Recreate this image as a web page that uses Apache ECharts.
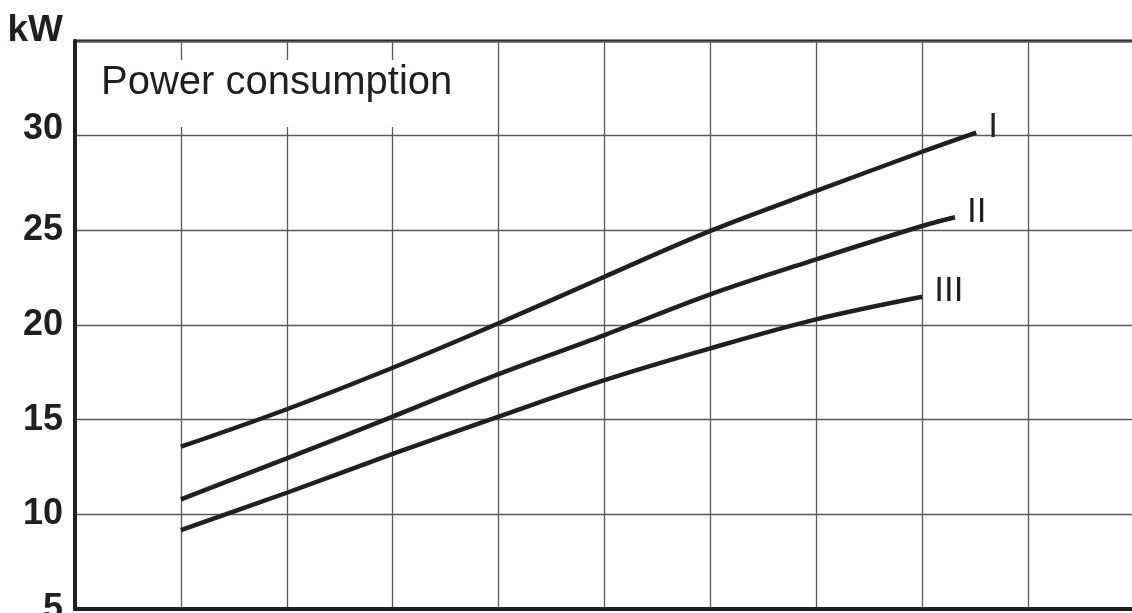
<!DOCTYPE html>
<html>
<head>
<meta charset="utf-8">
<script src="https://cdn.jsdelivr.net/npm/echarts@6/dist/echarts.min.js"></script>
<style>
  html, body { margin: 0; padding: 0; background: #fff; }
  #chart { width: 1132px; height: 613px; }
</style>
</head>
<body>
<div id="chart"></div>
<script>
const ink = '#231f20'
const font = '"Liberation Sans", Arial, Helvetica, sans-serif'

// y axis ticks (kW)
const yTicks = [5, 10, 15, 20, 25, 30, 35]

// curves
const xI = [1, 2, 3, 4, 5, 6, 7, 8, 8.51]
const yI = [13.57, 15.55, 17.74, 20.09, 22.55, 24.97, 27.08, 29.15, 30.16]
const xII = [1, 2, 3, 4, 5, 6, 7, 8, 8.31]
const yII = [10.79, 12.96, 15.16, 17.41, 19.47, 21.62, 23.47, 25.23, 25.69]
const xIII = [1, 2, 3, 4, 5, 6, 7, 8]
const yIII = [9.17, 11.14, 13.19, 15.16, 17.09, 18.77, 20.30, 21.49]

const pairs = (xs, ys) => xs.map((x, i) => [x, ys[i]])

const chart = echarts.init(document.getElementById('chart'))

const makeSeries = (name, xs, ys) => ({
  name,
  type: 'line',
  data: pairs(xs, ys),
  smooth: 0.35,
  showSymbol: false,
  lineStyle: { color: ink, width: 4.5 },
  z: 3,
  endLabel: {
    show: true,
    formatter: name,
    color: ink,
    fontFamily: font,
    fontSize: 35,
    distance: 12,
    offset: [0, -5]
  }
})

const option = {
  animation: false,
  backgroundColor: '#fff',
  grid: {
    left: 75,
    top: 41,
    width: 1059,
    height: 568,
    outerBoundsMode: 'none',
    containLabel: false,
    show: true,
    borderColor: ink,
    borderWidth: 3
  },
  xAxis: {
    type: 'value',
    min: 0,
    max: 10,
    interval: 1,
    axisLine: { show: true, lineStyle: { color: ink, width: 4 } },
    axisTick: { show: false },
    axisLabel: { show: false },
    splitLine: { show: true, lineStyle: { color: '#5a5a5a', width: 1.3 } }
  },
  yAxis: {
    type: 'value',
    min: yTicks[0],
    max: yTicks[yTicks.length - 1],
    interval: 5,
    axisLine: { show: true, lineStyle: { color: ink, width: 4 } },
    axisTick: { show: false },
    axisLabel: {
      color: ink,
      fontFamily: font,
      fontWeight: 'bold',
      fontSize: 36,
      margin: 12,
      formatter: (v) => (v === 35 ? '' : v === 30 ? '{up|30}' : String(v)),
      rich: {
        up: {
          color: ink,
          fontFamily: font,
          fontWeight: 'bold',
          fontSize: 36,
          padding: [0, 0, 14, 0]
        }
      }
    },
    splitLine: { show: true, lineStyle: { color: '#5a5a5a', width: 1.3 } }
  },
  graphic: [
    {
      type: 'rect',
      z: 5,
      shape: { x: 78, y: 60, width: 392, height: 67 },
      style: { fill: '#fff' }
    },
    {
      type: 'text',
      z: 6,
      x: 101,
      y: 83,
      style: {
        text: 'Power consumption',
        font: '40px ' + font,
        fill: ink,
        verticalAlign: 'middle'
      }
    },
    {
      type: 'text',
      z: 6,
      x: 63,
      y: 49,
      style: {
        text: 'kW',
        font: 'bold 37px ' + font,
        fill: ink,
        align: 'right',
        verticalAlign: 'bottom'
      }
    }
  ],
  series: [
    makeSeries('I', xI, yI),
    makeSeries('II', xII, yII),
    makeSeries('III', xIII, yIII)
  ]
}

chart.setOption(option)
</script>
</body>
</html>
